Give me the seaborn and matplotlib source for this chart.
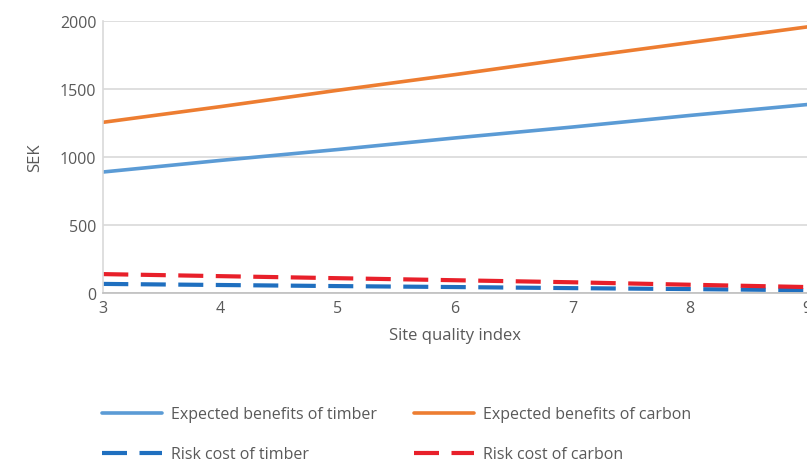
import numpy as np
import pandas as pd
import matplotlib
matplotlib.use('Agg')
import matplotlib.pyplot as plt
import seaborn as sns

sns.set_style('white')
plt.rcParams['font.family'] = ['Open Sans', 'DejaVu Sans']

# 数据
site_quality = [3, 4, 5, 6, 7, 8, 9]
benefit_timber = [890, 975, 1055, 1140, 1220, 1305, 1385]
benefit_carbon = [1255, 1370, 1490, 1605, 1725, 1840, 1955]
risk_timber = [68, 60, 52, 45, 37, 30, 22]
risk_carbon = [140, 125, 110, 95, 80, 62, 45]

series_names = ['Expected benefits of timber', 'Expected benefits of carbon',
                'Risk cost of timber', 'Risk cost of carbon']
series_values = [benefit_timber, benefit_carbon, risk_timber, risk_carbon]
colors = ['#5B9BD5', '#ED7D31', '#1F6FBF', '#E8202A']
dashed = [False, False, True, True]

text_color = '#595959'

fig = plt.figure(figsize=(8.07, 4.64), dpi=100)
ax = fig.add_axes([0.128, 0.366, 0.872, 0.587])

for name, vals, c, d in zip(series_names, series_values, colors, dashed):
    df = pd.DataFrame({'x': site_quality, 'y': vals})
    sns.lineplot(data=df, x='x', y='y', ax=ax, color=c, label=name,
                 linewidth=3.0 if d else 2.6, legend=False)
    if d:
        ax.lines[-1].set_dashes((6, 3))

ax.set_xlim(3, 9)
ax.set_ylim(0, 2000)
ax.set_yticks([0, 500, 1000, 1500, 2000])
ax.set_xticks(site_quality)
ax.yaxis.grid(True, color='#D9D9D9', linewidth=1.2)
ax.xaxis.grid(False)
for side in ['top', 'right']:
    ax.spines[side].set_visible(False)
ax.spines['left'].set_color('#D9D9D9')
ax.spines['bottom'].set_color('#BFBFBF')
ax.spines['left'].set_linewidth(1.2)
ax.spines['bottom'].set_linewidth(1.2)
ax.tick_params(axis='both', labelsize=11.5, colors=text_color, length=0, pad=5)
ax.set_xlabel('Site quality index', fontsize=12, color=text_color, labelpad=8)
ax.set_ylabel('SEK', fontsize=12, color=text_color, labelpad=12)

# 图例按行排列
handles, labels = ax.get_legend_handles_labels()
order = [0, 2, 1, 3]
fig.legend([handles[i] for i in order], [labels[i] for i in order],
           ncol=2, loc='upper left', bbox_to_anchor=(0.108, 0.153),
           frameon=False, fontsize=11.5, handlelength=3.8, columnspacing=2.3,
           labelspacing=1.5, handletextpad=0.55, labelcolor=text_color)

plt.savefig('out.png', dpi=100)
